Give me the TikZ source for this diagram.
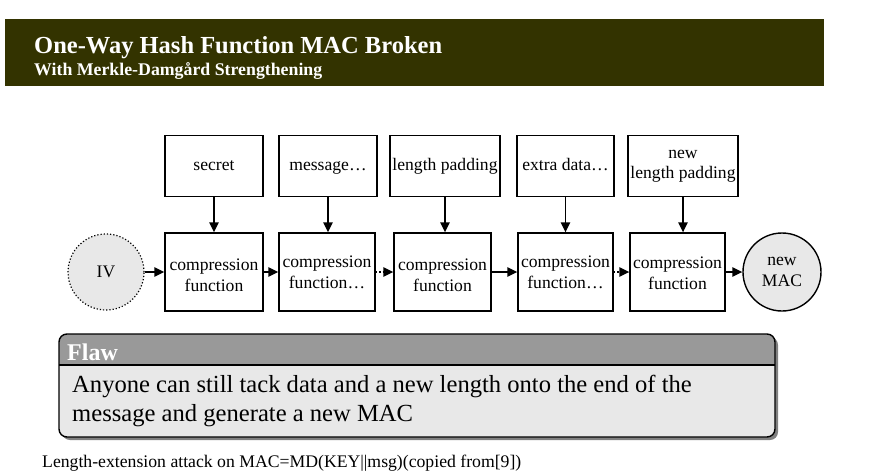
\documentclass[tikz,border=0pt]{standalone}
\usepackage{fontspec}
\setmainfont{Liberation Serif}
\usetikzlibrary{arrows.meta}
\definecolor{bandcol}{HTML}{333300}
\definecolor{flawhead}{HTML}{999999}
\definecolor{flawbody}{HTML}{E8E8E8}
\definecolor{circfill}{HTML}{E8E8E8}
\tikzset{
  inbox/.style={draw=black,line width=1.4pt,minimum height=61pt,inner sep=0pt,align=center,
    font=\fontsize{17.6}{20.5}\selectfont},
  oneline/.style={text height=12.5pt,text depth=4pt},
  cfbox/.style={draw=black,line width=1.4pt,minimum height=78pt,inner sep=0pt},
  cftext/.style={inner sep=0pt,align=center,font=\fontsize{17.6}{20.5}\selectfont},
  circ/.style={circle,fill=circfill,inner sep=0pt,align=center,font=\fontsize{17.6}{20.5}\selectfont},
  arr/.style={line width=1.4pt,-{Triangle[length=10pt,width=9.5pt]}},
  darr/.style={arr,dotted},
}
\begin{document}
\begin{tikzpicture}[x=1pt,y=-1pt]
\useasboundingbox (0,0) rectangle (889,474);
% header band
\fill[bandcol] (5,19) rectangle (824,86);
\node[anchor=base west,inner sep=0pt,text=white,font=\fontsize{24.5}{28}\selectfont\bfseries] (title) at (34,53) {One-Way Hash Function MAC Broken};
\node[anchor=base west,inner sep=0pt,text=white,font=\fontsize{17.8}{20}\selectfont\bfseries] (subtitle) at (34,75) {With Merkle-Damgård Strengthening};
% input boxes
\node[inbox,oneline,minimum width=98pt] (secret) at (214,166) {secret};
\node[inbox,oneline,minimum width=98pt] (msg) at (328,166) {message…};
\node[inbox,oneline,minimum width=110pt] (lpad) at (445,166) {length padding};
\node[inbox,oneline,minimum width=97pt] (extra) at (565.5,166) {extra data…};
\node[inbox,minimum width=110pt] (nlpad) at (683,166) {new\\length padding};
% compression functions
\node[cfbox,minimum width=98pt] (cf1) at (214,272) {};
\node[cfbox,minimum width=96pt] (cf2) at (327,272) {};
\node[cfbox,minimum width=97pt] (cf3) at (442.5,272) {};
\node[cfbox,minimum width=95pt] (cf4) at (565.5,272) {};
\node[cfbox,minimum width=95pt] (cf5) at (677.5,272) {};
\node[cftext] (cf1t) at ([yshift=-3.5pt]cf1.center) {compression\\function};
\node[cftext] (cf2t) at ([yshift=-0.5pt]cf2.center) {compression\\function…};
\node[cftext] (cf3t) at ([yshift=-3.5pt]cf3.center) {compression\\function};
\node[cftext] (cf4t) at ([yshift=-0.5pt]cf4.center) {compression\\function…};
\node[cftext] (cf5t) at ([yshift=-1.5pt]cf5.center) {compression\\function};
\node[circ,draw=black,dotted,line width=1.2pt,minimum size=76pt] (iv) at (106,272) {IV};
\node[circ,draw=black,line width=1.4pt,minimum size=78pt] (mac) at (782,272) {new\\MAC};
% vertical arrows
\draw[arr] (secret.south) -- (cf1.north -| secret.south);
\draw[arr] (msg.south) -- (cf2.north -| msg.south);
\draw[arr] (lpad.south) -- (cf3.north -| lpad.south);
\draw[arr] (extra.south) -- (cf4.north -| extra.south);
\draw[arr] (nlpad.south) -- (cf5.north -| nlpad.south);
% horizontal arrows
\draw[arr] (iv.east) -- (cf1.west);
\draw[arr] (cf1.east) -- (cf2.west);
\draw[darr] (cf2.east) -- (cf3.west);
\draw[arr] (cf3.east) -- (cf4.west);
\draw[darr] (cf4.east) -- (cf5.west);
\draw[arr] (cf5.east) -- (mac.west);
% flaw box
\fill[black!50,rounded corners=8pt] (62,337) rectangle (778,440);
\fill[flawbody,rounded corners=8pt] (59,334) rectangle (775,437);
\begin{scope}
\clip[rounded corners=8pt] (59,334) rectangle (775,437);
\fill[flawhead] (59,334) rectangle (775,365);
\end{scope}
\draw[line width=1.4pt] (59,365) -- (775,365);
\draw[line width=1.4pt,rounded corners=8pt] (59,334) rectangle (775,437);
\node[anchor=base west,inner sep=0pt,text=white,font=\fontsize{24}{28}\selectfont\bfseries] (flaw) at (67,360) {Flaw};
\node[anchor=base west,inner sep=0pt,align=left,font=\fontsize{24.6}{29}\selectfont] (flawtext) at (72,421) {Anyone can still tack data and a new length onto the end of the\\message and generate a new MAC};
% caption
\node[anchor=base west,inner sep=0pt,font=\fontsize{17.7}{20}\selectfont] (caption) at (42,467) {Length-extension attack on MAC=MD(KEY||msg)(copied from[9])};
\end{tikzpicture}
\end{document}
